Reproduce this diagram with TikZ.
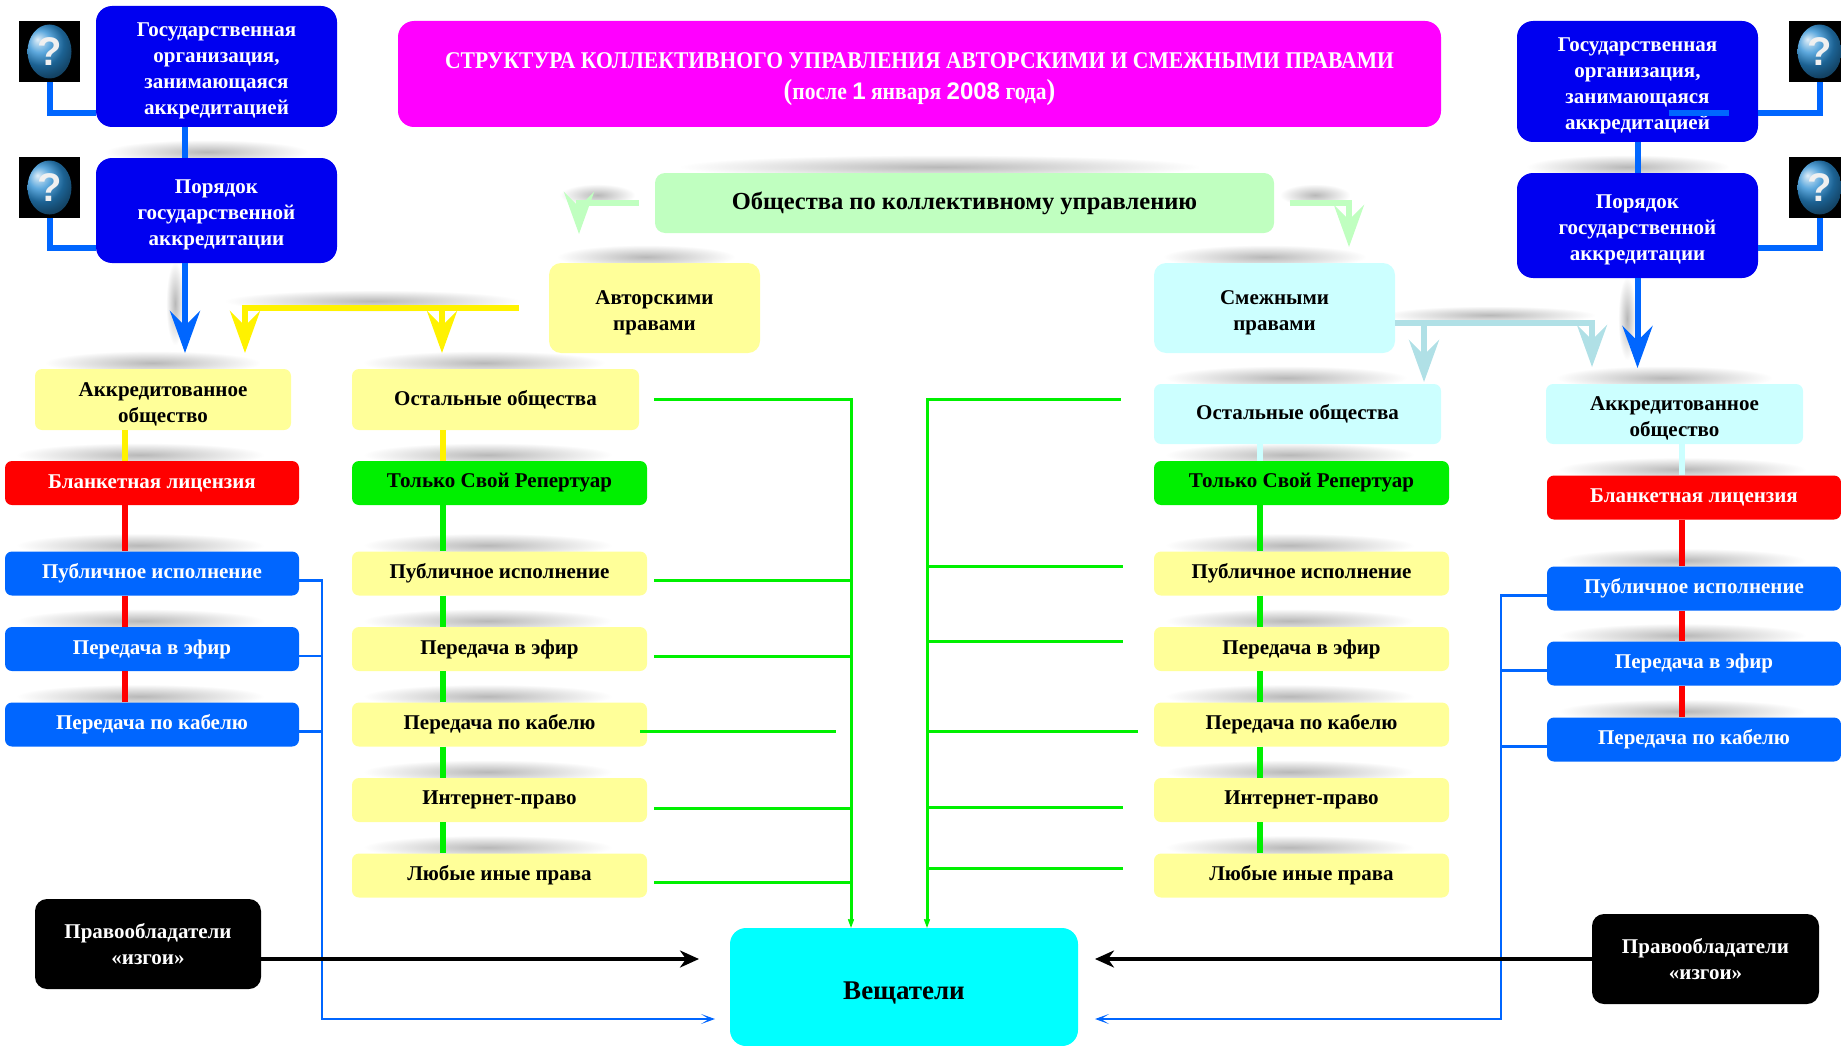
\documentclass[tikz,border=0pt]{standalone}
\usepackage{fontspec}
\setmainfont{Liberation Serif}
\newfontfamily\digits{Liberation Sans}
\newfontfamily\narrow{Liberation Serif}[FakeStretch=0.9]
\usetikzlibrary{arrows.meta,calc,fadings,backgrounds}
\tikzfading[name=soft, inner color=transparent!0, outer color=transparent!100]
\newcommand{\boxlift}[1][23pt]{\rule{0pt}{#1}}

\definecolor{navy}{RGB}{0,0,240}
\definecolor{sky}{RGB}{0,102,255}
\definecolor{pink}{RGB}{255,0,255}
\definecolor{lemon}{RGB}{255,255,153}
\definecolor{ice}{RGB}{204,255,255}
\definecolor{mint}{RGB}{192,255,192}
\definecolor{powder}{RGB}{176,224,230}
\definecolor{lime}{RGB}{0,240,0}
\definecolor{aqua}{RGB}{0,255,255}
\definecolor{qblue}{RGB}{40,140,210}

\tikzset{
  box/.style={rounded corners=7pt, align=center, inner sep=0pt, minimum height=44pt,
    font=\bfseries\fontsize{21}{26}\selectfont},
  govbox/.style={box, fill=navy, text=white, minimum width=241pt, rounded corners=16pt},
  bigbox/.style={box, minimum height=90pt, rounded corners=12pt},
  qicon/.style={fill=black, minimum width=61pt, minimum height=61pt, inner sep=0pt,
    text=white!88!gray, font=\digits\bfseries\fontsize{40}{40}\selectfont,
    path picture={\shade[ball color=qblue, rotate around={-12:(path picture bounding box.center)}]
      (path picture bounding box.center) ellipse (22pt and 27pt);}},
  haze/.style={fill=black!28, path fading=soft},
  bigtip/.style={-{Stealth[length=42pt,width=30pt,inset=15pt]}},
  navyline/.style={sky, line width=6pt},
  yline/.style={yellow, line width=6pt},
  rline/.style={red, line width=6pt},
  gline/.style={lime, line width=6pt},
  iceline/.style={ice, line width=6pt},
  mintline/.style={mint, line width=6pt},
  powderline/.style={powder, line width=6pt},
  gwire/.style={lime, line width=3pt},
  gtip/.style={-{Stealth[length=16pt,width=12pt,inset=10pt]}},
  bwire/.style={sky, line width=2.5pt},
  btip/.style={-{Stealth[length=14pt,width=10pt,inset=8pt]}},
  kwire/.style={black, line width=4pt},
  ktip/.style={-{Stealth[length=19pt,width=17pt,inset=6pt]}},
}

\begin{document}
\begin{tikzpicture}[x=1pt, y=-1pt]
  \useasboundingbox (0,0) rectangle (1841,1046);

  % top
  \node[box, fill=pink, text=white, minimum width=1043pt, minimum height=106pt, rounded corners=16pt,
    font=\narrow\bfseries\fontsize{24}{31}\selectfont] (title) at (919.5,74)
    {\boxlift[26pt]СТРУКТУРА КОЛЛЕКТИВНОГО УПРАВЛЕНИЯ АВТОРСКИМИ И СМЕЖНЫМИ ПРАВАМИ\\
     {\fontsize{29}{29}\selectfont(}после {\digits\bfseries\fontsize{24}{24}\selectfont 1} января
     {\digits\bfseries\fontsize{24}{24}\selectfont 2008} года{\fontsize{29}{29}\selectfont)}};
  \node[box, fill=mint, minimum width=619pt, minimum height=60pt, rounded corners=10pt,
    font=\bfseries\fontsize{24.5}{28}\selectfont] (soc) at (964.5,203) {Общества по коллективному управлению};

  % left side
  \node[govbox, minimum height=121pt] (gov1) at (216.5,66.5) {\boxlift Государственная\\организация,\\занимающаяся\\аккредитацией};
  \node[govbox, minimum height=105pt] (ord1) at (216.5,210.5) {\boxlift Порядок\\государственной\\аккредитации};
  \node[qicon] (q1) at (49.5,51.5) {?};
  \node[qicon] (q2) at (49.5,187.5) {?};
  \node[box, fill=lemon, minimum width=256pt, minimum height=61pt] (acc1) at (163,399.5) {\boxlift Аккредитованное\\общество};
  \node[box, fill=red, text=white, minimum width=294pt] (blank1) at (152,483) {Бланкетная лицензия};
  \node[box, fill=sky, text=white, minimum width=294pt] (pubB1) at (152,573.5) {Публичное исполнение};
  \node[box, fill=sky, text=white, minimum width=294pt] (airB1) at (152,649) {Передача в эфир};
  \node[box, fill=sky, text=white, minimum width=294pt] (cabB1) at (152,724.5) {Передача по кабелю};
  \node[bigbox, fill=black, text=white, minimum width=226pt] (rogue1) at (148,944) {Правообладатели\\«изгои»};

  % authors' rights
  \node[bigbox, fill=lemon, minimum width=211pt] (auth) at (654.5,308) {\boxlift[24pt]Авторскими\\правами};
  \node[box, fill=lemon, minimum width=287pt, minimum height=61pt] (rest1) at (495.5,399.5) {Остальные общества};
  \node[box, fill=lime, minimum width=295pt] (own1) at (499.5,483) {Только Свой Репертуар};
  \node[box, fill=lemon, minimum width=295pt] (pubY1) at (499.5,573.5) {Публичное исполнение};
  \node[box, fill=lemon, minimum width=295pt] (airY1) at (499.5,649) {Передача в эфир};
  \node[box, fill=lemon, minimum width=295pt] (cabY1) at (499.5,724.5) {Передача по кабелю};
  \node[box, fill=lemon, minimum width=295pt] (netY1) at (499.5,800) {Интернет-право};
  \node[box, fill=lemon, minimum width=295pt] (anyY1) at (499.5,875.5) {Любые иные права};

  % related rights
  \node[bigbox, fill=ice, minimum width=241pt] (rel) at (1274.5,308) {\boxlift[24pt]Смежными\\правами};
  \node[box, fill=ice, minimum width=287pt, minimum height=60pt] (rest2) at (1297.5,414) {Остальные общества};
  \node[box, fill=lime, minimum width=295pt] (own2) at (1301.5,483) {Только Свой Репертуар};
  \node[box, fill=lemon, minimum width=295pt] (pubY2) at (1301.5,573.5) {Публичное исполнение};
  \node[box, fill=lemon, minimum width=295pt] (airY2) at (1301.5,649) {Передача в эфир};
  \node[box, fill=lemon, minimum width=295pt] (cabY2) at (1301.5,724.5) {Передача по кабелю};
  \node[box, fill=lemon, minimum width=295pt] (netY2) at (1301.5,800) {Интернет-право};
  \node[box, fill=lemon, minimum width=295pt] (anyY2) at (1301.5,875.5) {Любые иные права};

  % right side
  \node[govbox, minimum height=121pt] (gov2) at (1637.5,81.5) {\boxlift Государственная\\организация,\\занимающаяся\\аккредитацией};
  \node[govbox, minimum height=105pt] (ord2) at (1637.5,225.5) {\boxlift Порядок\\государственной\\аккредитации};
  \node[qicon] (q3) at (1819.5,51.5) {?};
  \node[qicon] (q4) at (1819.5,187.5) {?};
  \node[box, fill=ice, minimum width=257pt, minimum height=60pt] (acc2) at (1674.5,414) {\boxlift Аккредитованное\\общество};
  \node[box, fill=red, text=white, minimum width=294pt] (blank2) at (1694,497.5) {Бланкетная лицензия};
  \node[box, fill=sky, text=white, minimum width=294pt] (pubB2) at (1694,588.5) {Публичное исполнение};
  \node[box, fill=sky, text=white, minimum width=294pt] (airB2) at (1694,663.5) {Передача в эфир};
  \node[box, fill=sky, text=white, minimum width=294pt] (cabB2) at (1694,739.5) {Передача по кабелю};
  \node[bigbox, fill=black, text=white, minimum width=227pt] (rogue2) at (1705.5,959) {Правообладатели\\«изгои»};

  % broadcasters
  \node[box, fill=aqua, minimum width=348pt, minimum height=118pt, rounded corners=16pt,
    font=\bfseries\fontsize{27}{30}\selectfont] (bc) at (904,987) {\boxlift[30pt]Вещатели};

  % soft shadows
  \begin{pgfonlayer}{background}
    \foreach \n in {ord1,ord2,soc,auth,rel,acc1,acc2,rest1,rest2,own1,own2,blank1,blank2,
        pubB1,airB1,cabB1,pubB2,airB2,cabB2,pubY1,airY1,cabY1,netY1,anyY1,pubY2,airY2,cabY2,netY2,anyY2}
      \fill[haze] ($(\n.north west)!0.04!(\n.north east)+(0,-18)$) rectangle ($(\n.north east)!0.12!(\n.north west)+(0,6)$);
    \fill[haze] (225,290) rectangle (520,312);
    \fill[haze] (1385,306) rectangle (1595,324);
    \fill[haze] (560,184) rectangle (635,206);
    \fill[haze] (1280,184) rectangle (1350,206);
    \fill[haze] (166,262) rectangle (184,345);
    \fill[haze] (1618,277) rectangle (1636,360);
  \end{pgfonlayer}

  % axes and arrow ends
  \coordinate (axL) at (125,0);
  \coordinate (axA) at (185,0);
  \coordinate (axBL) at (322,0);
  \coordinate (axM) at (443,0);
  \coordinate (axGL) at (851,0);
  \coordinate (axGR) at (927,0);
  \coordinate (axR) at (1260,0);
  \coordinate (axBR) at (1501,0);
  \coordinate (axRR) at (1682,0);
  \coordinate (tipA) at (185,353);
  \coordinate (tipA2) at (1637.5,368);
  \coordinate (tipY1) at (245,353);
  \coordinate (tipY2) at (442,353);
  \coordinate (forkY) at (442,308);
  \coordinate (tipG1) at (579,234);
  \coordinate (tipG2) at (1349,247);
  \coordinate (forkP) at (1424,323);
  \coordinate (tipP1) at (1424,382);
  \coordinate (tipP2) at (1592,367);
  \coordinate (tipKL) at (699,959);
  \coordinate (tipKR) at (1095,959);
  \coordinate (tipBL) at (715,1019);
  \coordinate (tipBR) at (1095,1019);

  % accreditation
  \draw[navyline] (q1.south) |- ([yshift=14pt]gov1.south west);
  \draw[navyline] (q2.south) |- ([yshift=15pt]ord1.south west);
  \draw[navyline] (q3.south) |- ([yshift=29pt]gov2.south east);
  \draw[navyline] (q4.south) |- ([yshift=30pt]ord2.south east);
  \draw[navyline] ([xshift=31pt,yshift=-32pt]gov2.center) -- ++(60,0);
  \draw[navyline] (gov1.south -| axA) -- (ord1.north -| axA);
  \draw[navyline, bigtip] (ord1.south -| axA) -- (tipA);
  \draw[navyline] (gov2) -- (ord2);
  \draw[navyline, bigtip] (ord2) -- (tipA2);

  % societies
  \draw[mintline, bigtip] ([xshift=-16pt]soc.west) -| (tipG1);
  \draw[mintline, bigtip] ([xshift=16pt]soc.east) -| (tipG2);
  \draw[yline, bigtip] ([xshift=-30pt]auth.west) -| (tipY1);
  \draw[yline, bigtip] (forkY) -- (tipY2);
  \draw[powderline, bigtip] ([yshift=-15pt]rel.east) -| (tipP2);
  \draw[powderline, bigtip] (forkP) -- (tipP1);

  % columns
  \draw[yline] (acc1.south -| axL) -- (blank1.north -| axL);
  \draw[rline] (blank1.south -| axL) -- (pubB1.north -| axL);
  \draw[rline] (pubB1.south -| axL) -- (airB1.north -| axL);
  \draw[rline] (airB1.south -| axL) -- (cabB1.north -| axL);
  \draw[yline] (rest1.south -| axM) -- (own1.north -| axM);
  \draw[gline] (own1.south -| axM) -- (pubY1.north -| axM);
  \draw[gline] (pubY1.south -| axM) -- (airY1.north -| axM);
  \draw[gline] (airY1.south -| axM) -- (cabY1.north -| axM);
  \draw[gline] (cabY1.south -| axM) -- (netY1.north -| axM);
  \draw[gline] (netY1.south -| axM) -- (anyY1.north -| axM);
  \draw[iceline] (rest2.south -| axR) -- (own2.north -| axR);
  \draw[gline] (own2.south -| axR) -- (pubY2.north -| axR);
  \draw[gline] (pubY2.south -| axR) -- (airY2.north -| axR);
  \draw[gline] (airY2.south -| axR) -- (cabY2.north -| axR);
  \draw[gline] (cabY2.south -| axR) -- (netY2.north -| axR);
  \draw[gline] (netY2.south -| axR) -- (anyY2.north -| axR);
  \draw[iceline] (acc2.south -| axRR) -- (blank2.north -| axRR);
  \draw[rline] (blank2.south -| axRR) -- (pubB2.north -| axRR);
  \draw[rline] (pubB2.south -| axRR) -- (airB2.north -| axRR);
  \draw[rline] (airB2.south -| axRR) -- (cabB2.north -| axRR);

  % to broadcasters
  \draw[gwire, gtip] ([xshift=15pt]rest1.east) -| (bc.north -| axGL);
  \draw[gwire] ([xshift=7pt,yshift=-7pt]pubY1.east) -- ([yshift=-7pt]pubY1.east -| axGL);
  \draw[gwire] ([xshift=7pt,yshift=-7pt]airY1.east) -- ([yshift=-7pt]airY1.east -| axGL);
  \draw[gwire] ([xshift=-7pt,yshift=-7pt]cabY1.east) -- ([xshift=-15pt,yshift=-7pt]cabY1.east -| axGL);
  \draw[gwire] ([xshift=7pt,yshift=-8pt]netY1.east) -- ([yshift=-8pt]netY1.east -| axGL);
  \draw[gwire] ([xshift=7pt,yshift=-7pt]anyY1.east) -- ([yshift=-7pt]anyY1.east -| axGL);
  \draw[gwire, gtip] ([xshift=-33pt,yshift=15pt]rest2.west) -| (bc.north -| axGR);
  \draw[gwire] ([xshift=-31pt,yshift=7pt]pubY2.west) -- ([yshift=7pt]pubY2.west -| axGR);
  \draw[gwire] ([xshift=-31pt,yshift=8pt]airY2.west) -- ([yshift=8pt]airY2.west -| axGR);
  \draw[gwire] ([xshift=-16pt,yshift=-7pt]cabY2.west) -- ([yshift=-7pt]cabY2.west -| axGR);
  \draw[gwire] ([xshift=-31pt,yshift=-7pt]netY2.west) -- ([yshift=-7pt]netY2.west -| axGR);
  \draw[gwire] ([xshift=-31pt,yshift=7pt]anyY2.west) -- ([yshift=7pt]anyY2.west -| axGR);
  \draw[bwire, btip] ([yshift=-7pt]pubB1.east) -| (tipBL -| axBL) -- (tipBL);
  \draw[bwire] ([yshift=-7pt]airB1.east) -- ([yshift=-7pt]airB1.east -| axBL);
  \draw[bwire] ([yshift=-7pt]cabB1.east) -- ([yshift=-7pt]cabB1.east -| axBL);
  \draw[bwire, btip] ([yshift=-7pt]pubB2.west) -| (tipBR -| axBR) -- (tipBR);
  \draw[bwire] ([yshift=-7pt]airB2.west) -- ([yshift=-7pt]airB2.west -| axBR);
  \draw[bwire] ([yshift=-7pt]cabB2.west) -- ([yshift=-7pt]cabB2.west -| axBR);
  \draw[kwire, ktip] ([yshift=-15pt]rogue1.east) -- (tipKL);
  \draw[kwire, ktip] (rogue2) -- (tipKR);
\end{tikzpicture}
\end{document}
